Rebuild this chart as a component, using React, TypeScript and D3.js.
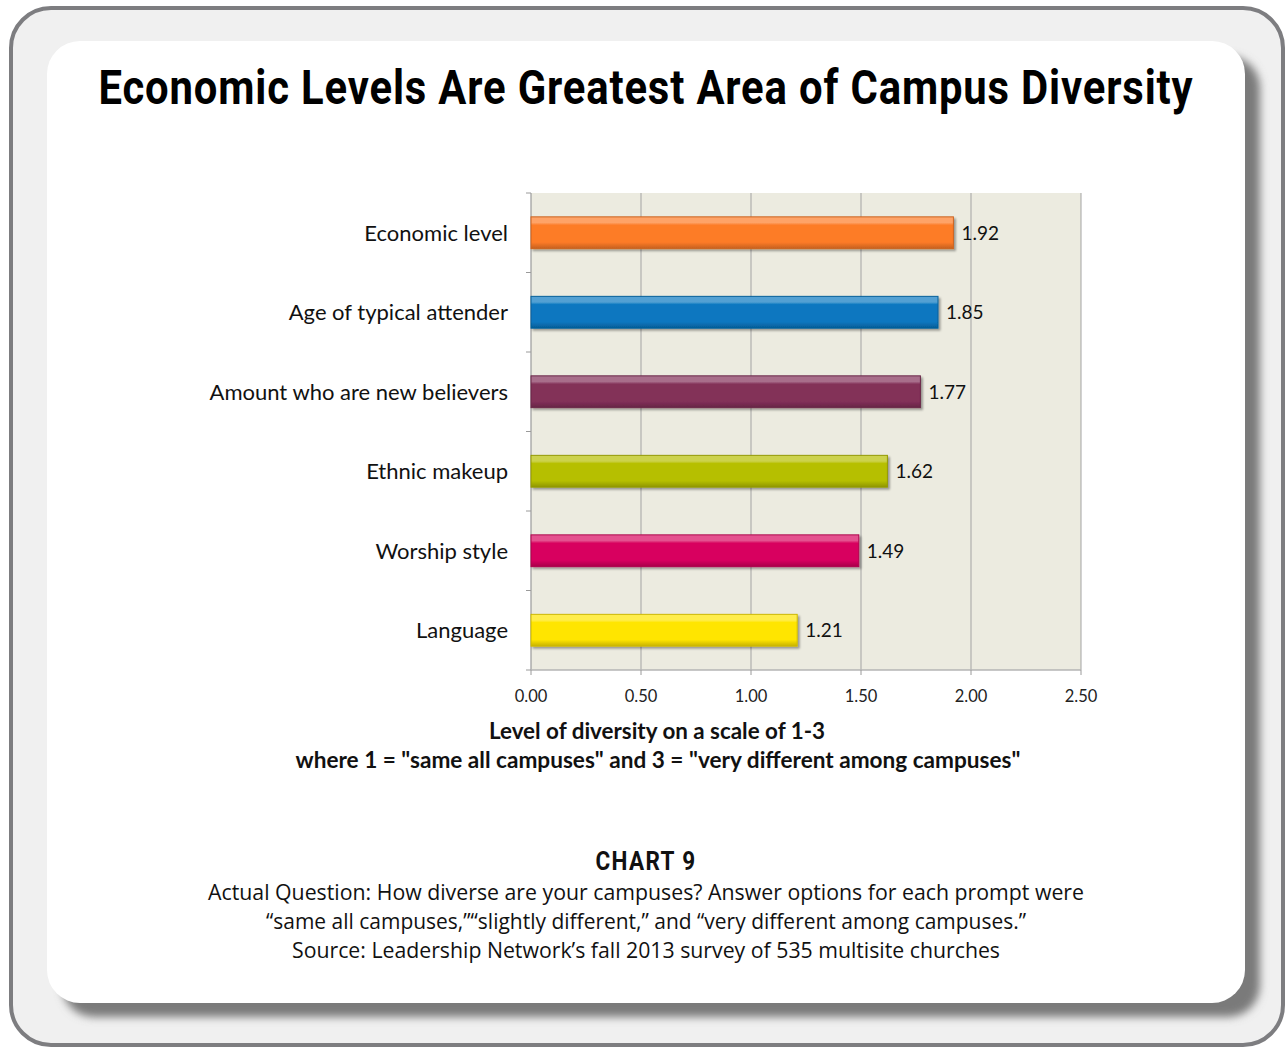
import React from "react";
import * as d3 from "d3";

const categories = [
  "Economic level",
  "Age of typical attender",
  "Amount who are new believers",
  "Ethnic makeup",
  "Worship style",
  "Language",
];
const values = [1.92, 1.85, 1.77, 1.62, 1.49, 1.21];
const barColors = ["#fd7b27", "#0877c0", "#833059", "#b6bf00", "#d8065f", "#ffe500"];
const xTicks = [0, 0.5, 1, 1.5, 2, 2.5];
const titleText = "Economic Levels Are Greatest Area of Campus Diversity";
const axisTitle = ["Level of diversity on a scale of 1-3", 'where 1 = "same all campuses" and 3 = "very different among campuses"'];
const chartLabel = "CHART 9";
const footnotes = [
  "Actual Question: How diverse are your campuses? Answer options for each prompt were",
  "\u201csame all campuses,\u201d\u201cslightly different,\u201d and \u201cvery different among campuses.\u201d",
  "Source: Leadership Network\u2019s fall 2013 survey of 535 multisite churches",
];

const W = 1288;
const H = 1049;
const plot = { left: 531, right: 1081, top: 193, bottom: 670 };

export default function App() {
  const x = d3.scaleLinear().domain([0, 2.5]).range([plot.left, plot.right]);
  const y = d3
    .scaleBand<string>()
    .domain(categories)
    .range([plot.top, plot.bottom])
    .paddingInner(0.6)
    .paddingOuter(0.3);
  const bandEdges = d3.range(categories.length + 1).map((i) => plot.top + (i * (plot.bottom - plot.top)) / categories.length);
  const chartFont = "Lato, 'Open Sans', sans-serif";
  const footFont = "'Open Sans', 'Noto Sans', sans-serif";
  const footW = [876, 760, 708];

  return (
    <svg width={W} height={H} style={{ position: "absolute", left: 0, top: 0 }}>
      <defs>
        <filter id="cardShadow" x="-5%" y="-5%" width="115%" height="115%">
          <feGaussianBlur stdDeviation="4" />
        </filter>
        <filter id="barShadow" x="-5%" y="-30%" width="115%" height="180%">
          <feGaussianBlur in="SourceAlpha" stdDeviation="1.2" />
          <feOffset dx="1.5" dy="2" result="ob" />
          <feComponentTransfer>
            <feFuncA type="linear" slope="0.35" />
          </feComponentTransfer>
          <feMerge>
            <feMergeNode />
            <feMergeNode in="SourceGraphic" />
          </feMerge>
        </filter>
        {barColors.map((c, i) => {
          const base = d3.color(c)!;
          const light = d3.interpolateRgb(c, "#ffffff")(0.3);
          const dark = (base as d3.RGBColor).darker(0.7).formatHex();
          return (
            <linearGradient key={i} id={`bg${i}`} x1="0" y1="0" x2="0" y2="1">
              <stop offset="0" stopColor={light} />
              <stop offset="0.18" stopColor={light} />
              <stop offset="0.26" stopColor={c} />
              <stop offset="0.8" stopColor={c} />
              <stop offset="1" stopColor={dark} />
            </linearGradient>
          );
        })}
      </defs>

      {/* outer frame */}
      <rect x={11} y={8} width={1272} height={1037} rx={40} ry={40} fill="#f0f0f0" stroke="#7d7d80" strokeWidth={4} />
      {/* card shadow */}
      <rect x={62} y={56} width={1198} height={961} rx={32} ry={32} fill="#7a7a7a" filter="url(#cardShadow)" />
      {/* white card */}
      <rect x={47} y={41} width={1198} height={962} rx={33} ry={33} fill="#ffffff" />

      {/* title */}
      <g transform="translate(646,104) scale(0.853,1)">
        <text
          x={0}
          y={0}
          textAnchor="middle"
          fontFamily="Roboto, 'Liberation Sans', sans-serif"
          fontWeight={700}
          fontSize={49}
          letterSpacing={1}
          fill="#000"
        >
          {titleText}
        </text>
      </g>

      {/* plot background */}
      <rect x={plot.left} y={plot.top} width={plot.right - plot.left} height={plot.bottom - plot.top} fill="#ecebe0" />
      {/* gridlines */}
      {xTicks.slice(1).map((t) => (
        <line key={t} x1={x(t)} x2={x(t)} y1={plot.top} y2={plot.bottom} stroke="#a3a3a3" strokeWidth={1} />
      ))}
      {/* axes */}
      <line x1={plot.left} x2={plot.left} y1={plot.top} y2={plot.bottom} stroke="#9a9a9a" strokeWidth={1.2} />
      <line x1={plot.left} x2={plot.right} y1={plot.bottom} y2={plot.bottom} stroke="#b5b5b5" strokeWidth={1.5} />
      {bandEdges.map((e, i) => (
        <line key={i} x1={plot.left - 5} x2={plot.left} y1={e} y2={e} stroke="#9a9a9a" strokeWidth={1} />
      ))}
      {xTicks.map((t) => (
        <g key={t}>
          <line x1={x(t)} x2={x(t)} y1={plot.bottom} y2={plot.bottom + 5} stroke="#9a9a9a" strokeWidth={1} />
          <text x={x(t)} y={702} textAnchor="middle" fontFamily={chartFont} fontSize={16.5} fill="#222">
            {d3.format(".2f")(t)}
          </text>
        </g>
      ))}

      {/* bars */}
      {categories.map((c, i) => {
        const by = y(c)!;
        const bh = y.bandwidth();
        const bw = x(values[i]) - x(0);
        return (
          <g key={c}>
            <rect
              x={x(0)}
              y={by}
              width={bw}
              height={bh}
              fill={`url(#bg${i})`}
              stroke={(d3.color(barColors[i]) as d3.RGBColor).darker(0.6).formatHex()}
              strokeWidth={1}
              filter="url(#barShadow)"
            />
            <text x={x(values[i]) + 8} y={by + bh / 2 + 7} fontFamily={chartFont} fontSize={19} fill="#111">
              {d3.format(".2f")(values[i])}
            </text>
            <text x={508} y={by + bh / 2 + 8} textAnchor="end" fontFamily={chartFont} fontSize={22} fill="#111">
              {c}
            </text>
          </g>
        );
      })}

      {/* axis title */}
      <text x={657} y={739} textAnchor="middle" fontFamily={chartFont} fontWeight={700} fontSize={22.4} fill="#111">
        {axisTitle[0]}
      </text>
      <text x={658} y={768} textAnchor="middle" fontFamily={chartFont} fontWeight={700} fontSize={22.6} fill="#111">
        {axisTitle[1]}
      </text>

      {/* footer */}
      <g transform="translate(646,870) scale(0.9,1)">
        <text x={0} y={0} textAnchor="middle" fontFamily="Roboto, sans-serif" fontWeight={700} fontSize={25} letterSpacing={1.5} fill="#111">
          {chartLabel}
        </text>
      </g>
      {footnotes.map((f, i) => (
        <text
          key={i}
          x={646}
          y={900 + i * 29}
          textAnchor="middle"
          fontFamily={footFont}
          fontSize={21}
          textLength={footW[i]}
          lengthAdjust="spacingAndGlyphs"
          fill="#111"
        >
          {f}
        </text>
      ))}
    </svg>
  );
}
